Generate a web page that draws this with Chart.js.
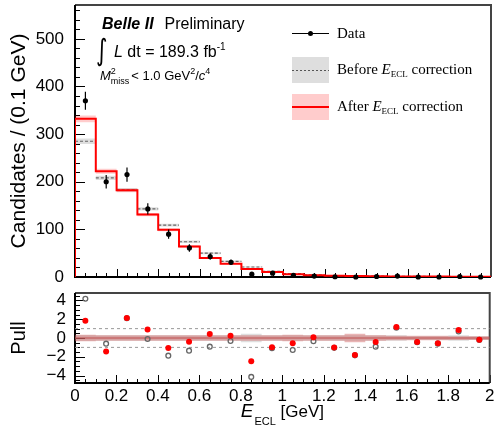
<!DOCTYPE html>
<html>
<head>
<meta charset="utf-8">
<script src="https://cdn.jsdelivr.net/npm/chart.js@4.4.1/dist/chart.umd.min.js"></script>
<style>
  body { margin: 0; background: #fff; }
  #wrap { position: relative; width: 495px; height: 427px; }
  canvas { position: absolute; left: 0; }
</style>
</head>
<body>
<div id="wrap">
  <canvas id="topChart" width="495" height="290" style="top:0px"></canvas>
  <canvas id="pullChart" width="495" height="147" style="top:280px"></canvas>
</div>
<script>
// ---- data ----
const binEdges = [0, 0.1, 0.2, 0.3, 0.4, 0.5, 0.6, 0.7, 0.8, 0.9, 1.0,
                  1.1, 1.2, 1.3, 1.4, 1.5, 1.6, 1.7, 1.8, 1.9, 2.0];

const dataCounts = [370, 200, 215, 143, 90, 61, 43, 31, 6, 8, 3.5, 2, 0.5, 0, 1, 2, 0, 0, 1, 0];
const dataErrors = [19, 14, 15, 12, 9.5, 7.8, 6.6, 5.6, 2.5, 2.8, 1.9, 1.4, 1, 1, 1, 1.4, 1, 1, 1, 1];

const beforeCounts = [285, 208, 183, 143, 109, 74, 50, 33, 21, 12, 7, 4.5, 3, 2.5, 2, 1.5, 1.2, 1, 0.8, 0.6];
const beforeErrors = [6, 4.5, 4, 3.5, 3, 2.5, 2, 1.5, 1.2, 1, 0.8, 0.6, 0.5, 0.5, 0.4, 0.3, 0.3, 0.2, 0.2, 0.2];

const afterCounts = [332, 222, 182, 131, 99, 64, 40, 28, 17, 10.5, 6, 3.5, 2.5, 2.2, 1.8, 1.2, 1, 0.8, 0.6, 0.5];
const afterErrors = [7, 5, 4, 3.5, 3, 2.5, 2, 1.5, 1.2, 1, 0.8, 0.6, 0.5, 0.5, 0.4, 0.3, 0.3, 0.2, 0.2, 0.2];

const pullAfter  = [1.84, -1.45, 2.13, 0.92, -1.06, -0.39, 0.43, 0.25, -2.48, -0.99,
                    -0.57, 0.07, -1.0, -1.8, -0.43, 1.17, -0.43, -0.57, 0.85, -0.18];
const pullBefore = [4.18, -0.6, 2.1, -0.1, -1.88, -1.35, -0.92, -0.32, -4.15, -1.1,
                    -1.28, -0.35, -1.05, -1.85, -0.92, 1.1, -0.45, -0.6, 0.7, -0.2];
const pullBandAfter  = [0.35, 0.3, 0.3, 0.3, 0.3, 0.3, 0.3, 0.3, 0.3, 0.3,
                        0.35, 0.3, 0.3, 0.45, 0.3, 0.25, 0.25, 0.25, 0.2, 0.2];
const pullBandBefore = [0.3, 0.3, 0.3, 0.3, 0.3, 0.3, 0.3, 0.3, 0.45, 0.3,
                        0.3, 0.3, 0.3, 0.3, 0.3, 0.3, 0.2, 0.2, 0.3, 0.2];

const yTicksTop = [0, 100, 200, 300, 400, 500];
const yTicksPull = [-4, -2, 0, 2, 4];
const xTicks = [0, 0.2, 0.4, 0.6, 0.8, 1, 1.2, 1.4, 1.6, 1.8, 2];
const xTickLabels = ['0', '0.2', '0.4', '0.6', '0.8', '1', '1.2', '1.4', '1.6', '1.8', '2'];

const SANS = "'Liberation Sans', Arial, sans-serif";
const SERIF = "'Liberation Serif', 'Times New Roman', serif";

// ---- helpers to build what Chart.js wants ----
const binCenters = binEdges.slice(0, -1).map((e, i) => (e + binEdges[i + 1]) / 2);

// points for a histogram outline; used with stepped: 'before'
function stepPoints(values, fromZero) {
  const pts = fromZero ? [{ x: binEdges[0], y: 0 }] : [];
  values.forEach((v, i) => pts.push({ x: binEdges[i], y: v }));
  pts.push({ x: binEdges[values.length], y: values[values.length - 1] });
  return pts;
}
function flatSegments(values) {
  const pts = [];
  values.forEach((v, i) => {
    pts.push({ x: binEdges[i], y: v }, { x: binEdges[i + 1], y: v }, { x: binEdges[i + 1], y: null });
  });
  return pts;
}
function shifted(values, errs, sign) {
  return values.map((v, i) => v + sign * errs[i]);
}
function centerPoints(values) {
  return values.map((v, i) => ({ x: binCenters[i], y: v }));
}

function richText(ctx, x, y, parts, align) {
  let w = 0;
  parts.forEach(p => { ctx.font = p.font; if (p.adv !== false) w += ctx.measureText(p.t).width + (p.dx || 0); });
  let cx = align === 'center' ? x - w / 2 : x;
  parts.forEach(p => {
    ctx.font = p.font;
    ctx.fillText(p.t, cx, y + (p.dy || 0));
    if (p.adv !== false) cx += ctx.measureText(p.t).width + (p.dx || 0);
  });
}

// no extra room for half labels at the axis ends
function noEndPadding(s) {
  s.paddingTop = 0; s.paddingBottom = 0; s.paddingLeft = 0; s.paddingRight = 0;
}

// frame + inward ticks, ROOT style
function frameTicks(o) {
  return {
    id: 'frameTicks',
    beforeDatasetsDraw(chart) {
      const { ctx, chartArea: a, scales: { x, y } } = chart;
      ctx.save();
      ctx.strokeStyle = '#000';
      ctx.lineWidth = 1;
      ctx.beginPath();
      const nx = Math.round((x.max - x.min) / o.xMinor);
      for (let i = 0; i <= nx; i++) {
        const v = x.min + i * o.xMinor;
        const major = Math.abs(v / o.xMajor - Math.round(v / o.xMajor)) < 1e-6;
        const px = Math.round(x.getPixelForValue(v)) + 0.5;
        ctx.moveTo(px, a.bottom);
        ctx.lineTo(px, a.bottom - (major ? o.majorLen : o.minorLen));
      }
      const i0 = Math.ceil(y.min / o.yMinor - 1e-6), i1 = Math.floor(y.max / o.yMinor + 1e-6);
      for (let i = i0; i <= i1; i++) {
        const v = i * o.yMinor;
        const major = Math.abs(v / o.yMajor - Math.round(v / o.yMajor)) < 1e-6;
        const py = Math.round(y.getPixelForValue(v)) + 0.5;
        ctx.moveTo(a.left, py);
        ctx.lineTo(a.left + (major ? o.majorLen + 2 : o.minorLen + 1), py);
      }
      ctx.stroke();
      // top and right border
      ctx.strokeStyle = '#444';
      ctx.lineWidth = 2;
      ctx.beginPath();
      ctx.moveTo(a.left, a.top);
      ctx.lineTo(a.right, a.top);
      ctx.lineTo(a.right, a.bottom);
      ctx.stroke();
      // axes
      ctx.strokeStyle = '#000';
      ctx.beginPath();
      ctx.moveTo(a.left, a.top);
      ctx.lineTo(a.left, a.bottom);
      ctx.lineTo(a.right, a.bottom);
      ctx.stroke();
      // y axis title
      ctx.fillStyle = '#000';
      ctx.font = o.titleFont;
      ctx.textAlign = 'center';
      ctx.textBaseline = 'middle';
      ctx.translate(o.titleX, (a.top + a.bottom) / 2 + (o.titleDy || 0));
      ctx.rotate(-Math.PI / 2);
      ctx.fillText(o.title, 0, 0);
      ctx.restore();
    }
  };
}

const errorBars = {
  id: 'errorBars',
  afterDatasetsDraw(chart) {
    const { ctx, scales: { y } } = chart;
    chart.data.datasets.forEach((ds, di) => {
      if (!ds.errors) return;
      const meta = chart.getDatasetMeta(di);
      ctx.save();
      ctx.strokeStyle = ds.borderColor;
      ctx.lineWidth = 1.2;
      ctx.beginPath();
      meta.data.forEach((pt, i) => {
        const v = ds.data[i].y, e = ds.errors[i];
        if (!e) return;
        ctx.moveTo(pt.x, y.getPixelForValue(Math.max(v - e, y.min)));
        ctx.lineTo(pt.x, y.getPixelForValue(Math.min(v + e, y.max)));
      });
      ctx.stroke();
      ctx.restore();
    });
  }
};

const annotations = {
  id: 'annotations',
  afterDraw(chart) {
    const ctx = chart.ctx;
    ctx.save();
    ctx.fillStyle = '#000';
    ctx.textAlign = 'left';
    ctx.textBaseline = 'alphabetic';
    richText(ctx, 102, 29, [
      { t: 'Belle II', font: 'italic bold 16px ' + SANS, dx: 11 },
      { t: 'Preliminary', font: '16px ' + SANS }
    ]);
    // integral sign, stretched
    ctx.save();
    ctx.translate(96, 60);
    ctx.scale(1, 1.35);
    ctx.font = '22px DejaVu Sans';
    ctx.fillText('\u222B', 0, 0);
    ctx.restore();
    richText(ctx, 114, 57, [
      { t: 'L', font: 'italic 16px ' + SANS },
      { t: ' dt = 189.3 fb', font: '16px ' + SANS },
      { t: '-1', font: '10px ' + SANS, dy: -7 }
    ]);
    richText(ctx, 100, 80, [
      { t: 'M', font: 'italic 13px ' + SANS },
      { t: '2', font: '9px ' + SANS, dy: -6, adv: false },
      { t: 'miss', font: '9px ' + SANS, dy: 4, dx: 2 },
      { t: '< 1.0 GeV', font: '13px ' + SANS },
      { t: '2', font: '9px ' + SANS, dy: -6 },
      { t: '/', font: '13px ' + SANS },
      { t: 'c', font: 'italic 13px ' + SANS },
      { t: '4', font: '9px ' + SANS, dy: -6 }
    ]);

    // legend
    ctx.strokeStyle = '#000';
    ctx.lineWidth = 1;
    ctx.beginPath();
    ctx.moveTo(292, 33.5); ctx.lineTo(329, 33.5);
    ctx.stroke();
    ctx.beginPath();
    ctx.arc(310.5, 33.5, 2.5, 0, Math.PI * 2);
    ctx.fill();
    richText(ctx, 337, 38, [{ t: 'Data', font: '15px ' + SERIF }]);

    ctx.fillStyle = '#dedede';
    ctx.fillRect(292, 57, 37, 26);
    ctx.strokeStyle = '#555';
    ctx.setLineDash([2, 2]);
    ctx.beginPath();
    ctx.moveTo(292, 70.5); ctx.lineTo(329, 70.5);
    ctx.stroke();
    ctx.setLineDash([]);
    ctx.fillStyle = '#000';
    richText(ctx, 337, 74, [
      { t: 'Before ', font: '15px ' + SERIF },
      { t: 'E', font: 'italic 15px ' + SERIF },
      { t: 'ECL', font: '9px ' + SERIF, dy: 3 },
      { t: ' correction', font: '15px ' + SERIF }
    ]);

    ctx.fillStyle = '#ffcccc';
    ctx.fillRect(292, 94, 37, 26);
    ctx.strokeStyle = '#ff0000';
    ctx.lineWidth = 2;
    ctx.beginPath();
    ctx.moveTo(292, 107); ctx.lineTo(329, 107);
    ctx.stroke();
    ctx.fillStyle = '#000';
    richText(ctx, 337, 111, [
      { t: 'After ', font: '15px ' + SERIF },
      { t: 'E', font: 'italic 15px ' + SERIF },
      { t: 'ECL', font: '9px ' + SERIF, dy: 3 },
      { t: ' correction', font: '15px ' + SERIF }
    ]);
    ctx.restore();
  }
};

const xTitle = {
  id: 'xTitle',
  afterDraw(chart) {
    const { ctx, chartArea: a } = chart;
    ctx.save();
    ctx.fillStyle = '#000';
    ctx.textAlign = 'left';
    ctx.textBaseline = 'alphabetic';
    richText(ctx, (a.left + a.right) / 2, 137, [
      { t: 'E', font: 'italic 19px ' + SANS, dx: 1 },
      { t: 'ECL', font: '11px ' + SANS, dy: 8 },
      { t: ' [GeV]', font: '17px ' + SANS }
    ], 'center');
    ctx.restore();
  }
};

// ---- top panel ----
new Chart(document.getElementById('topChart'), {
  type: 'line',
  data: {
    datasets: [
      {
        label: 'Data', data: centerPoints(dataCounts), errors: dataErrors,
        showLine: false, pointRadius: 2.6, backgroundColor: '#000', borderColor: '#000',
        pointBorderWidth: 0, clip: false
      },
      {
        label: 'After', data: stepPoints(afterCounts, true), stepped: 'before',
        borderColor: '#ff0000', borderWidth: 2, pointRadius: 0, fill: false
      },
      {
        label: 'Before', data: flatSegments(beforeCounts), spanGaps: false,
        borderColor: '#666', borderWidth: 1.2, borderDash: [3, 2], pointRadius: 0, fill: false
      },
      {
        label: 'After band hi', data: stepPoints(shifted(afterCounts, afterErrors, 1)), stepped: 'before',
        borderWidth: 0, pointRadius: 0, fill: '+1', backgroundColor: 'rgba(255,0,0,0.2)'
      },
      {
        label: 'After band lo', data: stepPoints(shifted(afterCounts, afterErrors, -1)), stepped: 'before',
        borderWidth: 0, pointRadius: 0, fill: false
      },
      {
        label: 'Before band hi', data: stepPoints(shifted(beforeCounts, beforeErrors, 1)), stepped: 'before',
        borderWidth: 0, pointRadius: 0, fill: '+1', backgroundColor: 'rgba(0,0,0,0.13)'
      },
      {
        label: 'Before band lo', data: stepPoints(shifted(beforeCounts, beforeErrors, -1)), stepped: 'before',
        borderWidth: 0, pointRadius: 0, fill: false
      }
    ]
  },
  options: {
    responsive: false,
    animation: false,
    events: [],
    devicePixelRatio: 1,
    layout: { padding: { top: 5, right: 3, bottom: 13, left: 0 } },
    plugins: { legend: { display: false }, tooltip: { enabled: false } },
    scales: {
      x: { type: 'linear', min: 0, max: 2, display: false },
      y: {
        type: 'linear', min: 0, max: 571,
        afterFit: s => { s.width = 75; noEndPadding(s); },
        afterBuildTicks: s => { s.ticks = yTicksTop.map(v => ({ value: v })); },
        grid: { display: false, drawTicks: false },
        border: { display: false },
        ticks: { padding: 11, autoSkip: false, color: '#000', font: { family: SANS, size: 17 } }
      }
    }
  },
  plugins: [
    frameTicks({ xMinor: 0.05, xMajor: 0.2, yMinor: 20, yMajor: 100, minorLen: 4, majorLen: 8,
                 title: 'Candidates / (0.1 GeV)', titleFont: '21px ' + SANS, titleX: 19 }),
    errorBars, annotations
  ]
});

// ---- pull panel ----
new Chart(document.getElementById('pullChart'), {
  type: 'line',
  data: {
    datasets: [
      {
        label: 'Pull after', data: centerPoints(pullAfter), showLine: false,
        pointRadius: 3, backgroundColor: '#ff0000', borderColor: '#ff0000', pointBorderWidth: 0, clip: false
      },
      {
        label: 'Pull before', data: centerPoints(pullBefore), showLine: false,
        pointRadius: 2.4, backgroundColor: 'rgba(255,255,255,0)', borderColor: '#666', pointBorderWidth: 1.3, clip: false
      },
      {
        label: 'zero', data: [{ x: 0, y: 0 }, { x: 2, y: 0 }],
        borderColor: '#c05050', borderWidth: 1, pointRadius: 0, fill: false
      },
      {
        label: '+1', data: [{ x: 0, y: 1 }, { x: 2, y: 1 }],
        borderColor: '#999', borderWidth: 1, borderDash: [3, 3], pointRadius: 0, fill: false
      },
      {
        label: '-1', data: [{ x: 0, y: -1 }, { x: 2, y: -1 }],
        borderColor: '#999', borderWidth: 1, borderDash: [3, 3], pointRadius: 0, fill: false
      },
      {
        label: 'After band hi', data: stepPoints(pullBandAfter), stepped: 'before',
        borderWidth: 0, pointRadius: 0, fill: '+1', backgroundColor: 'rgba(200,70,70,0.4)'
      },
      {
        label: 'After band lo', data: stepPoints(shifted(pullBandAfter.map(() => 0), pullBandAfter, -1)), stepped: 'before',
        borderWidth: 0, pointRadius: 0, fill: false
      },
      {
        label: 'Before band hi', data: stepPoints(pullBandBefore), stepped: 'before',
        borderWidth: 0, pointRadius: 0, fill: '+1', backgroundColor: 'rgba(150,150,150,0.3)'
      },
      {
        label: 'Before band lo', data: stepPoints(shifted(pullBandBefore.map(() => 0), pullBandBefore, -1)), stepped: 'before',
        borderWidth: 0, pointRadius: 0, fill: false
      }
    ]
  },
  options: {
    responsive: false,
    animation: false,
    events: [],
    devicePixelRatio: 1,
    layout: { padding: { top: 13, right: 3, bottom: 0, left: 0 } },
    plugins: { legend: { display: false }, tooltip: { enabled: false } },
    scales: {
      x: {
        type: 'linear', min: 0, max: 2,
        afterFit: s => { s.height = 44; noEndPadding(s); },
        afterBuildTicks: s => { s.ticks = xTicks.map(v => ({ value: v })); },
        grid: { display: false, drawTicks: false },
        border: { display: false },
        ticks: {
          padding: 3, color: '#000', maxRotation: 0, autoSkip: false,
          font: { family: SANS, size: 17 },
          callback: (v, i) => xTickLabels[i]
        }
      },
      y: {
        type: 'linear', min: -4.8, max: 4.8,
        afterFit: s => { s.width = 75; noEndPadding(s); },
        afterBuildTicks: s => { s.ticks = yTicksPull.map(v => ({ value: v })); },
        grid: { display: false, drawTicks: false },
        border: { display: false },
        ticks: {
          padding: 9, autoSkip: false, color: '#000', font: { family: SANS, size: 17 },
          callback: v => (v < 0 ? '\u2212' + Math.abs(v) : String(v))
        }
      }
    }
  },
  plugins: [
    frameTicks({ xMinor: 0.05, xMajor: 0.2, yMinor: 0.5, yMajor: 2, minorLen: 4, majorLen: 8,
                 title: 'Pull', titleFont: '20px ' + SANS, titleX: 19 }),
    xTitle
  ]
});
</script>
</body>
</html>
